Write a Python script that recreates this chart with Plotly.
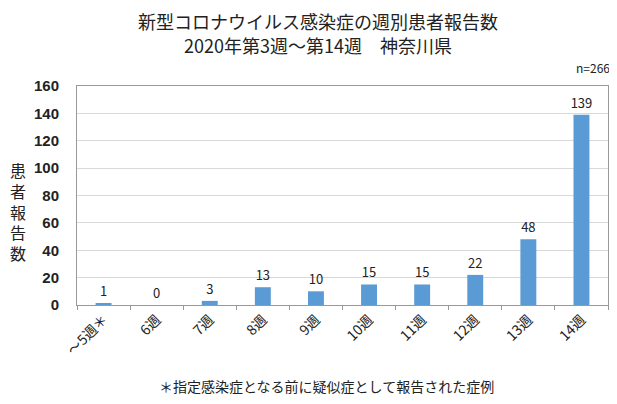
import plotly.graph_objects as go

categories = ["～5週＊", "6週", "7週", "8週", "9週", "10週", "11週", "12週", "13週", "14週"]
values = [1, 0, 3, 13, 10, 15, 15, 22, 48, 139]
y_ticks = [0, 20, 40, 60, 80, 100, 120, 140, 160]
title_lines = ["新型コロナウイルス感染症の週別患者報告数", "2020年第3週～第14週　神奈川県"]
y_title = "患者報告数"

OFF = 8  # page body margin
W, H = 617 - OFF, 404 - OFF
L, R, T, B = 77 - OFF, 608 - OFF, 86 - OFF, 305 - OFF

def py(pix):
    return (B - (pix - OFF)) / (B - T)

def px(pix):
    return ((pix - OFF) - L) / (R - L)

fig = go.Figure()
fig.add_trace(go.Bar(
    x=categories, y=values, width=0.3,
    marker=dict(color="#5B9BD5", line=dict(width=0)),
    text=[str(v) for v in values], textposition="outside",
    constraintext="none",
    textfont=dict(family="Noto Sans CJK JP", size=13, color="#222"),
    cliponaxis=False,
))

annotations = []
for i, line in enumerate(title_lines):
    annotations.append(dict(text=line, xref="paper", yref="paper", x=px(318), y=py(21 + 24 * i),
                            xanchor="center", yanchor="middle", showarrow=False,
                            font=dict(family="Noto Sans CJK JP", size=18, color="#222")))
annotations.append(dict(text="<br>".join(y_title), xref="paper", yref="paper", x=px(18), y=py(211),
                        xanchor="center", yanchor="middle", showarrow=False, align="center",
                        font=dict(family="Noto Sans CJK JP", size=16, color="#222")))
annotations.append(dict(text="n=266", xref="paper", yref="paper", x=px(612), y=py(68),
                        xanchor="right", yanchor="middle", showarrow=False,
                        font=dict(family="Noto Sans CJK JP", size=12, color="#222")))
annotations.append(dict(text="＊指定感染症となる前に疑似症として報告された症例", xref="paper", yref="paper",
                        x=px(496), y=py(386), xanchor="right", yanchor="middle", showarrow=False,
                        font=dict(family="Noto Sans CJK JP", size=14, color="#222")))

fig.update_layout(
    width=W, height=H,
    margin=dict(l=L, r=W - R, t=T, b=H - B, autoexpand=False),
    plot_bgcolor="white", paper_bgcolor="white",
    showlegend=False,
    bargap=0.7,
    xaxis=dict(
        automargin=False,
        showline=True, linecolor="#999", mirror=True,
        ticks="outside", tickson="boundaries", ticklen=4, tickcolor="#999",
        tickangle=-45,
        tickfont=dict(family="Noto Sans CJK JP", size=14, color="#222"),
    ),
    yaxis=dict(
        automargin=False,
        range=[0, 160], tickvals=y_ticks,
        showline=True, linecolor="#999", mirror=True,
        gridcolor="#d9d9d9", gridwidth=1,
        ticks="", ticklabelstandoff=14,
        tickfont=dict(family="Liberation Sans", size=15, color="#222", weight="bold"),
        zeroline=False,
    ),
    annotations=annotations,
)

fig.write_html("out.html")
